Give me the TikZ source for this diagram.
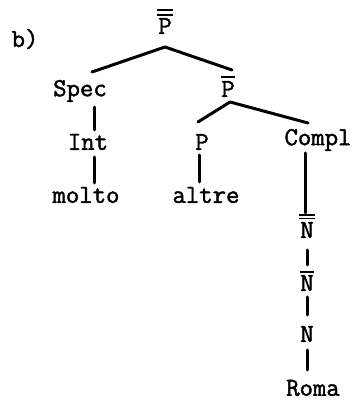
\documentclass[tikz,border=0pt]{standalone}
\usepackage{fontspec}
\newfontfamily\tw[FakeBold=1.6]{Latin Modern Mono}
\begin{document}
\begin{tikzpicture}[x=1pt,y=1pt,
  lab/.style={inner sep=0pt,font=\tw\fontsize{26}{26}\selectfont},
  edge/.style={line width=3pt,line cap=round},
  barl/.style={line width=1.3pt}]
\useasboundingbox (0,0) rectangle (357,412);
\node[lab] (b) at (25,373) {b)};
\node[lab] (Ptop) at (165,386) {P};
\node[lab] (Spec) at (80,321) {Spec};
\node[lab] (Pbar) at (228,323) {P};
\node[lab] (Int) at (88,270) {Int};
\node[lab] (P) at (202,270) {P};
\node[lab] (Compl) at (318,272) {Compl};
\node[lab] (molto) at (86,217) {molto};
\node[lab] (altre) at (206,217) {altre};
\node[lab] (N2) at (307,182) {N};
\node[lab] (N1) at (307,129) {N};
\node[lab] (N) at (307,78) {N};
\node[lab] (Roma) at (313,24) {Roma};
% bars
\draw[barl] ([xshift=-8pt]Ptop.north |- 0,402) -- ([xshift=8pt]Ptop.north |- 0,402);
\draw[barl] ([xshift=-8pt]Ptop.north |- 0,397) -- ([xshift=8pt]Ptop.north |- 0,397);
\draw[barl] ([xshift=-7pt]Pbar.north |- 0,335) -- ([xshift=7pt]Pbar.north |- 0,335);
\draw[barl] ([xshift=-8pt]N2.north |- 0,197) -- ([xshift=8pt]N2.north |- 0,197);
\draw[barl] ([xshift=-8pt]N2.north |- 0,193.5) -- ([xshift=8pt]N2.north |- 0,193.5);
\draw[barl] ([xshift=-7pt]N1.north |- 0,140) -- ([xshift=7pt]N1.north |- 0,140);
% edges
\coordinate (t0) at (165,365);
\draw[edge] (t0) -- (92,340);
\draw[edge] (t0) -- (232,342);
\coordinate (p0) at (230,310);
\draw[edge] (p0) -- (198,290);
\draw[edge] (p0) -- (308,289);
\draw[edge] (Spec.south -| 94,0) ++(0,-5) -- (94,282);
\draw[edge] (94,255) -- (94,229);
\draw[edge] (199,257) -- (199,230);
\draw[edge] (305,259) -- (305,199);
\draw[edge] (307,162) -- (307,147);
\draw[edge] (307,115) -- (307,97);
\draw[edge] (307,62) -- (307,42);
\end{tikzpicture}
\end{document}
